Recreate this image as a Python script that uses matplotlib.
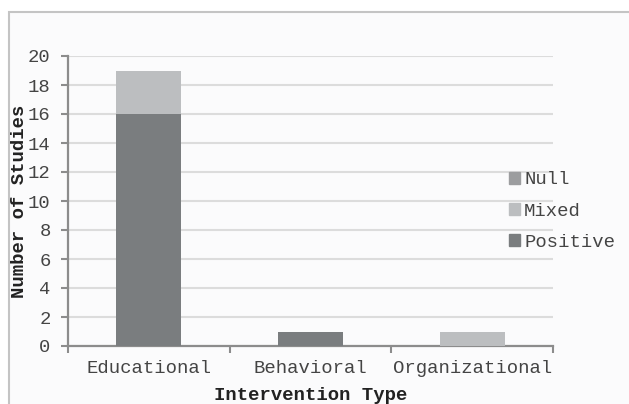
import numpy as np
import matplotlib
matplotlib.use("Agg")
from matplotlib import pyplot as plt
from matplotlib.patches import Rectangle, Patch

categories = ["Educational", "Behavioral", "Organizational"]
positive = [16, 1, 0]
mixed = [3, 0, 1]
null = [0, 0, 0]

c_pos = "#7a7d7f"
c_mix = "#bcbec0"
c_null = "#9c9d9f"

plt.rcParams["font.family"] = ["Liberation Mono", "DejaVu Sans Mono"]
plt.rcParams["font.size"] = 13.6

fig = plt.figure(figsize=(6.29, 4.04), dpi=100)
fig.patch.set_facecolor("white")

# outer frame of the chart area
frame = Rectangle((9 / 629, -0.1), 1.2, 1 - 12 / 404 + 0.1, transform=fig.transFigure,
                  facecolor="#fbfbfc", edgecolor="#c4c4c4", linewidth=1.5, zorder=-10)
fig.patches.append(frame)

ax = fig.add_axes([68 / 629, 1 - 346 / 404, 485 / 629, 290 / 404])
ax.set_facecolor("none")

x = np.arange(len(categories))
pos = np.array(positive)
mix = np.array(mixed)
nul = np.array(null)
ax.bar(x, pos, width=0.4, color=c_pos, zorder=3)
ax.bar(x, mix, width=0.4, bottom=pos, color=c_mix, zorder=3)
ax.bar(x, nul, width=0.4, bottom=pos + mix, color=c_null, zorder=3)

ax.set_xlim(-0.5, 2.5)
ax.set_ylim(0, 20)
ax.set_yticks(range(0, 21, 2))
ax.yaxis.grid(True, color="#dcdcdc", linewidth=1.5, zorder=0)
ax.set_axisbelow(True)

for s in ["top", "right"]:
    ax.spines[s].set_visible(False)
for s in ["left", "bottom"]:
    ax.spines[s].set_color("#8c8c8c")
    ax.spines[s].set_linewidth(1.6)

ax.set_xticks(x)
ax.set_xticklabels(categories)
ax.set_xticks([-0.5, 0.5, 1.5, 2.5], minor=True)
ax.tick_params(axis="x", which="major", length=0, pad=10, colors="#444444")
ax.tick_params(axis="x", which="minor", length=5, width=1.5, color="#8c8c8c", direction="out")
ax.tick_params(axis="y", length=5, width=1.5, color="#8c8c8c", pad=7.5, labelcolor="#444444")

ax.set_xlabel("Intervention Type", fontweight="bold", color="#222222")
ax.set_ylabel("Number of Studies", fontweight="bold", color="#222222")
ax.xaxis.set_label_coords(0.5, -50 / 290)
ax.xaxis.label.set_va("center")
ax.yaxis.set_label_coords(-48 / 485, 0.5)
ax.yaxis.label.set_va("center")

handles = [Patch(color=c_null), Patch(color=c_mix), Patch(color=c_pos)]
labels = ["Null", "Mixed", "Positive"]
leg = fig.legend(handles, labels, loc="center left", bbox_to_anchor=(509 / 629, 1 - 211 / 404),
                 frameon=False, handlelength=0.6, handleheight=0.6, handletextpad=0.2,
                 labelspacing=0.75, borderaxespad=0, borderpad=0)
for t in leg.get_texts():
    t.set_color("#444444")

fig.savefig("out.png", dpi=100)
